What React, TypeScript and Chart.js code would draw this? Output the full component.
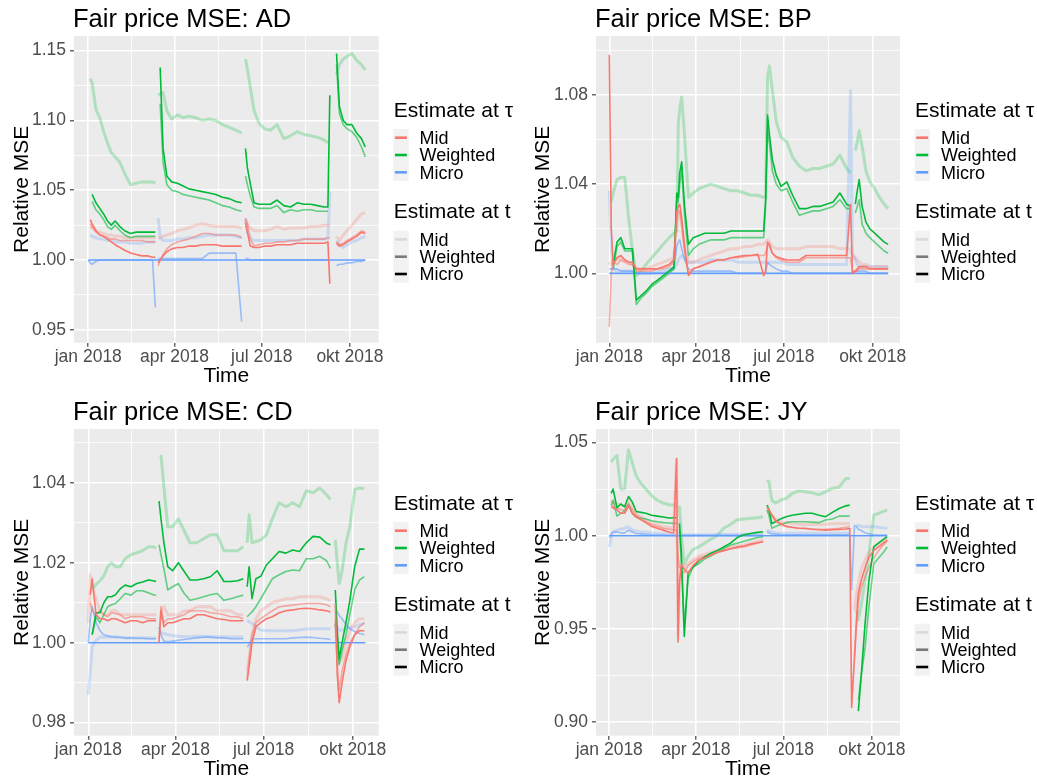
import React, { useEffect, useRef } from 'react';
import { Chart, registerables } from 'chart.js';

Chart.register(...registerables);

const FONT = '"Liberation Sans", Arial, Helvetica, sans-serif';
Chart.defaults.font.family = FONT;

// ---------- shared x grid (days since 1 Jan 2018) ----------
const DAYS = [
  0, 2, 4, 8, 12, 16, 20, 24, 28, 33, 38, 44, 50, 56, 62, 67, 70,
  71.5,
  73, 75, 78, 82, 87, 93, 99, 105, 112, 119, 126, 133, 140, 147, 154, 160,
  162,
  164, 166, 169, 173, 178, 184, 190, 197, 204, 211, 218, 225, 232, 239, 246, 250, 252,
  255,
  257, 259, 262, 266, 270, 275, 280, 285, 289,
];

const X_MAJOR = [0, 90, 181, 273];
const X_LABELS = ['jan 2018', 'apr 2018', 'jul 2018', 'okt 2018'];
const X_MINOR = [45, 135.5, 227];

const ESTIMATES = ['Mid', 'Weighted', 'Micro'];
const TAU_TITLE = 'Estimate at τ';
const T_TITLE = 'Estimate at t';
const TAU_COLORS = ['#F8766D', '#00BA38', '#619CFF'];
const T_KEY_ALPHA = [0.1, 0.5, 1];

// ---------- AD ----------
const AD_MID_MID = [
  null, 1.024, 1.023, 1.021, 1.020, 1.019, 1.018, 1.018, 1.017, 1.017, 1.016, 1.016, 1.016, 1.016, 1.016, 1.016, 1.016,
  null,
  1.016, 1.016, 1.017, 1.018, 1.019, 1.021, 1.022, 1.023, 1.025, 1.026, 1.025, 1.024, 1.024, 1.024, 1.024, 1.023,
  null,
  1.029, 1.026, 1.023, 1.021, 1.021, 1.021, 1.022, 1.024, 1.022, 1.023, 1.023, 1.023, 1.024, 1.024, 1.025, 1.025, 1.025,
  null,
  null, 1.017, 1.014, 1.018, 1.021, 1.025, 1.029, 1.033, 1.034,
];
const AD_MID_W = [
  null, 1.026, 1.024, 1.020, 1.018, 1.017, 1.016, 1.015, 1.015, 1.014, 1.014, 1.014, 1.014, 1.014, 1.013, 1.013, 1.013,
  null,
  0.996, 1.000, 1.004, 1.008, 1.011, 1.013, 1.014, 1.015, 1.017, 1.019, 1.019, 1.018, 1.018, 1.018, 1.018, 1.016,
  null,
  1.030, 1.026, 1.015, 1.010, 1.011, 1.012, 1.012, 1.013, 1.013, 1.014, 1.014, 1.015, 1.015, 1.015, 1.015, 1.016, 1.016,
  null,
  null, 1.013, 1.011, 1.012, 1.014, 1.016, 1.018, 1.021, 1.020,
];
const AD_MID_MICRO = [
  null, 1.029, 1.026, 1.021, 1.018, 1.017, 1.015, 1.013, 1.011, 1.009, 1.007, 1.005, 1.004, 1.003, 1.003, 1.002, 1.002,
  null,
  0.998, 1.000, 1.003, 1.006, 1.008, 1.009, 1.009, 1.010, 1.010, 1.011, 1.011, 1.011, 1.010, 1.010, 1.010, 1.010,
  null,
  1.027, 1.020, 1.010, 1.009, 1.009, 1.010, 1.010, 1.011, 1.011, 1.011, 1.012, 1.012, 1.012, 1.012, 1.012, 1.013, 0.983,
  null,
  null, 1.012, 1.010, 1.011, 1.013, 1.015, 1.017, 1.020, 1.019,
];
const AD_W_MID = [
  null, 1.130, 1.127, 1.108, 1.102, 1.092, 1.084, 1.077, 1.074, 1.070, 1.062, 1.054, 1.055, 1.056, 1.056, 1.056, 1.055,
  null,
  1.118, 1.119, 1.120, 1.107, 1.101, 1.104, 1.102, 1.103, 1.102, 1.100, 1.101, 1.100, 1.097, 1.095, 1.093, 1.091,
  null,
  1.144, 1.137, 1.124, 1.107, 1.098, 1.094, 1.093, 1.097, 1.087, 1.089, 1.092, 1.090, 1.089, 1.088, 1.086, 1.084, null,
  null,
  null, 1.133, 1.140, 1.144, 1.146, 1.148, 1.143, 1.140, 1.136,
];
const AD_W_W = [
  null, null, 1.042, 1.036, 1.033, 1.029, 1.024, 1.022, 1.025, 1.021, 1.018, 1.016, 1.017, 1.017, 1.017, 1.017, 1.017,
  null,
  null, 1.112, 1.070, 1.054, 1.050, 1.049, 1.047, 1.046, 1.045, 1.044, 1.043, 1.041, 1.039, 1.038, 1.036, 1.035,
  null,
  1.060, 1.054, 1.046, 1.038, 1.037, 1.037, 1.037, 1.039, 1.034, 1.036, 1.035, 1.036, 1.036, 1.035, 1.035, 1.035, null,
  null,
  null, 1.140, 1.105, 1.097, 1.094, 1.092, 1.088, 1.081, 1.074,
];
const AD_W_MICRO = [
  null, null, 1.047, 1.041, 1.037, 1.033, 1.028, 1.025, 1.028, 1.024, 1.021, 1.019, 1.020, 1.020, 1.020, 1.020, 1.020,
  null,
  null, 1.138, 1.080, 1.060, 1.056, 1.055, 1.053, 1.051, 1.050, 1.049, 1.048, 1.047, 1.045, 1.044, 1.042, 1.041,
  null,
  1.080, 1.066, 1.055, 1.041, 1.040, 1.040, 1.040, 1.043, 1.039, 1.038, 1.041, 1.040, 1.040, 1.039, 1.038, 1.038, 1.118,
  null,
  null, 1.148, 1.110, 1.100, 1.097, 1.097, 1.091, 1.087, 1.081,
];
const AD_U_MID = [
  null, 1.018, 1.017, 1.016, 1.015, 1.015, 1.014, 1.014, 1.013, 1.013, 1.013, 1.012, 1.012, 1.012, 1.013, 1.013, 1.013,
  null,
  1.030, 1.016, 1.014, 1.014, 1.014, 1.015, 1.015, 1.016, 1.016, 1.017, 1.018, 1.018, 1.018, 1.018, 1.017, 1.016,
  null,
  1.030, 1.020, 1.016, 1.014, 1.014, 1.014, 1.014, 1.014, 1.014, 1.014, 1.014, 1.015, 1.015, 1.015, 1.015, 1.015, 1.049,
  null,
  null, 1.014, 1.011, 1.009, 1.011, 1.013, 1.014, 1.016, 1.017,
];
const AD_U_W = [
  1.000, 0.998, 0.997, 0.999, 1.000, 1.000, 1.000, 1.000, 1.000, 1.000, 1.000, 1.000, 1.000, 1.000, 1.000, 1.000, 0.966,
  null,
  1.001, 1.001, 1.001, 1.001, 1.001, 1.001, 1.001, 1.001, 1.001, 1.001, 1.005, 1.005, 1.005, 1.005, 1.005, 0.956,
  null,
  1.001, 1.001, 1.000, 1.000, 1.000, 1.000, 1.000, 1.000, 1.000, 1.000, 1.000, 1.000, 1.000, 1.000, 1.000, 1.000, 1.000,
  null,
  null, 0.996, 0.997, 0.997, 0.998, 0.998, 0.999, 0.999, 1.000,
];
const AD_BASE_DAYS = [0, 289];
const AD_BASE = [1.0, 1.0];

// ---------- BP ----------
const BP_MID_MID = [
  1.005, 1.004, 1.006, 1.006, 1.007, 1.006, 1.005, 1.004, 1.002, 1.002, 1.002, 1.003, 1.004, 1.005, 1.006, 1.007, 1.024,
  1.026,
  1.027, 1.022, 1.012, 1.005, 1.005, 1.006, 1.007, 1.008, 1.009, 1.010, 1.011, 1.011, 1.012, 1.012, 1.013, 1.013,
  1.014,
  1.015, 1.014, 1.012, 1.011, 1.011, 1.011, 1.011, 1.011, 1.012, 1.012, 1.012, 1.012, 1.012, 1.011, 1.011, 1.011, 1.008,
  1.007,
  1.006, 1.005, 1.004, 1.004, 1.003, 1.003, 1.003, 1.003, 1.003,
];
const BP_MID_W = [
  0.976, 1.000, 1.005, 1.004, 1.006, 1.005, 1.004, 1.004, 1.001, 1.001, 1.001, 1.001, 1.002, 1.002, 1.003, 1.005, 1.026,
  1.028,
  1.028, 1.022, 1.010, 1.000, 1.002, 1.003, 1.004, 1.005, 1.006, 1.006, 1.007, 1.007, 1.0075, 1.008, 1.008, 1.008,
  1.009,
  1.013, 1.012, 1.009, 1.007, 1.006, 1.005, 1.005, 1.005, 1.007, 1.007, 1.007, 1.007, 1.007, 1.007, 1.007, 1.007, 1.001,
  1.001,
  1.001, 1.002, 1.002, 1.002, 1.002, 1.002, 1.002, 1.002, 1.002,
];
const BP_MID_MICRO = [
  1.098, 1.020, 1.004, 1.007, 1.008, 1.006, 1.005, 1.005, 1.002, 1.002, 1.002, 1.002, 1.002, 1.003, 1.004, 1.006, 1.028,
  1.030,
  1.031, 1.025, 1.012, 0.999, 1.002, 1.003, 1.004, 1.005, 1.006, 1.006, 1.007, 1.0075, 1.008, 1.008, 1.0085, 0.999,
  1.001,
  1.014, 1.013, 1.009, 1.0075, 1.0067, 1.006, 1.006, 1.006, 1.008, 1.008, 1.008, 1.008, 1.008, 1.008, 1.008, 1.031, 1.000,
  1.001,
  1.002, 1.003, 1.003, 1.003, 1.002, 1.002, 1.002, 1.002, 1.002,
];
const BP_W_MID = [
  null, 1.032, 1.036, 1.042, 1.043, 1.043, 1.025, 1.010, 0.999, 1.001, 1.004, 1.007, 1.010, 1.013, 1.016, 1.018, 1.019,
  1.067,
  1.074, 1.079, 1.062, 1.034, 1.036, 1.038, 1.039, 1.040, 1.039, 1.038, 1.037, 1.037, 1.036, 1.035, 1.035, 1.034,
  1.034,
  1.088, 1.093, 1.082, 1.068, 1.061, 1.059, 1.052, 1.048, 1.046, 1.047, 1.047, 1.048, 1.049, 1.053, 1.047, 1.045, null,
  1.055,
  1.059, 1.064, 1.057, 1.046, 1.041, 1.038, 1.034, 1.031, 1.029,
];
const BP_W_W = [
  null, null, 1.002, 1.012, 1.014, 1.010, 1.010, 1.010, 0.986, 0.989, 0.991, 0.994, 0.996, 0.998, 1.000, 1.002, 1.034,
  1.032,
  1.040, 1.046, 1.026, 1.008, 1.011, 1.013, 1.014, 1.015, 1.015, 1.015, 1.016, 1.016, 1.016, 1.016, 1.016, 1.016,
  1.030,
  1.064, 1.058, 1.046, 1.040, 1.037, 1.038, 1.032, 1.026, 1.027, 1.028, 1.028, 1.029, 1.030, 1.033, 1.029, 1.029, null,
  1.027,
  1.030, 1.033, 1.022, 1.018, 1.016, 1.014, 1.012, 1.010, 1.009,
];
const BP_W_MICRO = [
  null, null, 1.004, 1.014, 1.016, 1.011, 1.011, 1.011, 0.988, 0.990, 0.992, 0.995, 0.997, 0.999, 1.001, 1.003, 1.036,
  1.034,
  1.045, 1.050, 1.030, 1.013, 1.016, 1.017, 1.018, 1.018, 1.018, 1.018, 1.019, 1.019, 1.019, 1.019, 1.019, 1.019,
  1.033,
  1.071, 1.062, 1.051, 1.044, 1.039, 1.041, 1.035, 1.029, 1.029, 1.030, 1.030, 1.031, 1.032, 1.036, 1.031, 1.030, null,
  1.031,
  1.037, 1.042, 1.030, 1.023, 1.020, 1.018, 1.016, 1.014, 1.013,
];
const BP_U_MID = [
  1.037, 1.012, 1.002, 1.001, 1.001, 1.001, 1.001, 1.001, 1.000, 1.000, 1.000, 1.000, 1.001, 1.001, 1.002, 1.002, 1.004,
  1.006,
  1.007, 1.008, 1.007, 1.005, 1.005, 1.005, 1.005, 1.006, 1.006, 1.006, 1.006, 1.005, 1.005, 1.005, 1.005, 1.005,
  1.005,
  1.005, 1.005, 1.005, 1.005, 1.005, 1.004, 1.004, 1.004, 1.004, 1.004, 1.004, 1.004, 1.004, 1.004, 1.004, 1.082, 1.009,
  1.006,
  1.004, 1.003, 1.003, 1.003, 1.003, 1.003, 1.003, 1.003, 1.003,
];
const BP_U_W = [
  1.002, 1.002, 1.002, 1.002, 1.001, 1.001, 1.001, 1.001, 1.000, 1.000, 1.000, 1.000, 1.000, 1.000, 1.001, 1.002, 1.012,
  1.014,
  1.015, 1.011, 1.006, 1.002, 1.001, 1.001, 1.001, 1.001, 1.001, 1.001, 1.001, 1.000, 1.000, 1.000, 1.000, 1.000,
  1.000,
  1.005, 1.004, 1.003, 1.002, 1.001, 1.001, 1.000, 1.000, 1.000, 1.000, 1.000, 1.000, 1.000, 1.000, 1.000, 1.000, 1.000,
  1.001,
  1.001, 1.001, 1.001, 1.001, 1.000, 1.000, 1.000, 1.000, 1.000,
];
const BP_BASE_DAYS = [0, 289];
const BP_BASE = [1.0, 1.0];

// ---------- CD ----------
const CD_MID_MID = [
  1.005, 1.017, 1.014, 1.011, 1.008, 1.007, 1.007, 1.008, 1.008, 1.007, 1.007, 1.007, 1.007, 1.007, 1.007, 1.007, 1.007,
  null,
  null, 1.008, 1.009, 1.007, 1.007, 1.007, 1.008, 1.008, 1.009, 1.009, 1.009, 1.008, 1.008, 1.008, 1.007, 1.007,
  null,
  0.993, 0.996, 1.002, 1.006, 1.008, 1.009, 1.010, 1.0105, 1.011, 1.011, 1.0115, 1.0115, 1.0115, 1.0115, 1.011, 1.0105, null,
  1.006,
  0.998, 0.995, 0.996, 1.000, 1.003, 1.005, 1.006, 1.006, null,
];
const CD_MID_W = [
  null, 1.010, 1.008, 1.007, 1.008, 1.007, 1.0065, 1.0075, 1.0073, 1.007, 1.006, 1.0065, 1.0065, 1.0065, 1.006, 1.006, 1.006,
  null,
  1.001, 1.009, 1.005, 1.006, 1.006, 1.0065, 1.007, 1.008, 1.008, 1.008, 1.0075, 1.0073, 1.007, 1.0065, 1.0065, 1.006,
  null,
  0.991, 0.996, 1.002, 1.005, 1.006, 1.007, 1.008, 1.009, 1.0092, 1.0094, 1.0096, 1.0098, 1.0098, 1.0098, 1.0095, 1.009, null,
  1.005,
  0.995, 0.988, 0.993, 0.997, 1.000, 1.002, 1.004, 1.005, null,
];
const CD_MID_MICRO = [
  null, 1.012, 1.016, 1.007, 1.006, 1.006, 1.0055, 1.006, 1.006, 1.0055, 1.005, 1.0055, 1.0055, 1.005, 1.0055, 1.0055, 1.0055,
  null,
  1.000, 1.008, 1.004, 1.005, 1.005, 1.0055, 1.006, 1.006, 1.007, 1.007, 1.0065, 1.006, 1.0058, 1.0055, 1.0055, 1.0055,
  null,
  0.9905, 0.994, 1.000, 1.004, 1.005, 1.006, 1.0065, 1.0075, 1.008, 1.0082, 1.0085, 1.0086, 1.0085, 1.0082, 1.008, 1.0077, null,
  1.0098,
  0.992, 0.985, 0.990, 0.9955, 0.999, 1.002, 1.003, 1.003, null,
];
const CD_W_MID = [
  null, null, 1.0133, 1.0146, 1.0155, 1.0167, 1.019, 1.020, 1.019, 1.019, 1.021, 1.022, 1.0225, 1.023, 1.024, 1.024, 1.0236,
  null,
  null, 1.047, 1.039, 1.029, 1.029, 1.031, 1.028, 1.025, 1.025, 1.026, 1.027, 1.027, 1.023, 1.023, 1.023, 1.024,
  null,
  1.025, 1.032, 1.025, 1.0253, 1.0257, 1.027, 1.031, 1.035, 1.034, 1.035, 1.034, 1.038, 1.0375, 1.0387, 1.037, 1.0358, null,
  1.0257,
  1.020, 1.0148, 1.018, 1.0249, 1.029, 1.0383, 1.0387, 1.0386, null,
];
const CD_W_W = [
  null, null, 1.002, 1.0065, 1.005, 1.007, 1.009, 1.0095, 1.0098, 1.011, 1.0123, 1.0119, 1.013, 1.013, 1.0125, 1.012, 1.0119,
  null,
  1.0245, 1.022, 1.0185, 1.0132, 1.014, 1.0148, 1.0123, 1.0106, 1.011, 1.0115, 1.012, 1.0123, 1.0106, 1.011, 1.0115, 1.0119,
  null,
  1.0065, 1.007, 1.0077, 1.009, 1.011, 1.0135, 1.016, 1.017, 1.0178, 1.0182, 1.018, 1.021, 1.021, 1.0216, 1.0205, 1.0186, null,
  1.0048,
  0.999, 0.9945, 0.998, 1.002, 1.007, 1.0132, 1.0157, 1.0165, null,
];
const CD_W_MICRO = [
  null, null, 1.002, 1.0075, 1.0075, 1.010, 1.0115, 1.0115, 1.012, 1.0135, 1.0144, 1.014, 1.0148, 1.0152, 1.0157, 1.0155, 1.0153,
  null,
  1.0354, 1.031, 1.025, 1.019, 1.018, 1.020, 1.0178, 1.0157, 1.0157, 1.016, 1.0165, 1.018, 1.0153, 1.0153, 1.0155, 1.016,
  null,
  1.014, 1.019, 1.011, 1.016, 1.0166, 1.0195, 1.021, 1.0228, 1.0224, 1.0232, 1.0228, 1.025, 1.0266, 1.0264, 1.0249, 1.0245, null,
  1.0132,
  1.003, 0.996, 1.000, 1.005, 1.0105, 1.019, 1.0234, 1.0234, null,
];
const CD_U_MID = [
  0.987, 0.993, 0.999, 1.0006, 1.0014, 1.0014, 1.0014, 1.0014, 1.0014, 1.0014, 1.0012, 1.0012, 1.0012, 1.0012, 1.0012, 1.0012, 1.0012,
  null,
  1.003, 1.0025, 1.0023, 1.002, 1.0018, 1.0016, 1.0015, 1.0015, 1.0016, 1.0016, 1.0015, 1.0015, 1.0015, 1.0014, 1.0014, 1.0014,
  null,
  1.0056, 1.0052, 1.0048, 1.004, 1.0032, 1.003, 1.003, 1.003, 1.003, 1.003, 1.0032, 1.0034, 1.0035, 1.0035, 1.0035, 1.0035, null,
  1.0048,
  1.004, 1.003, 1.0032, 1.0035, 1.0038, 1.004, 1.0045, 1.0048, null,
];
const CD_U_W = [
  1.000, 1.006, 1.009, 1.005, 1.003, 1.002, 1.0017, 1.0015, 1.0014, 1.0013, 1.0012, 1.0012, 1.0011, 1.0011, 1.001, 1.001, 1.001,
  null,
  1.004, 1.002, 1.0004, 1.0002, 1.0004, 1.0006, 1.0008, 1.001, 1.0012, 1.0014, 1.0014, 1.0012, 1.0012, 1.001, 1.001, 1.001,
  null,
  0.9989, 0.9995, 1.001, 1.001, 1.001, 1.001, 1.001, 1.001, 1.001, 1.0012, 1.0013, 1.0014, 1.0013, 1.0011, 1.001, 1.0008, null,
  1.0081,
  1.0078, 1.0068, 1.006, 1.0045, 1.0035, 1.0028, 1.0023, 1.002, null,
];
const CD_BASE_DAYS = [0, 286];
const CD_BASE = [1.0, 1.0];

// ---------- JY ----------
const JY_MID_MID = [
  null, 1.019, 1.018, 1.017, 1.0165, 1.0158, 1.019, 1.016, 1.012, 1.010, 1.0085, 1.007, 1.006, 1.005, 1.0045, 1.004, 1.041,
  0.946,
  0.975, 0.983, 0.983, 0.985, 0.987, 0.989, 0.990, 0.991, 0.992, 0.993, 0.994, 0.9945, 0.995, 0.996, 0.997, 0.9977,
  null,
  1.0138, 1.013, 1.011, 1.009, 1.0075, 1.007, 1.0065, 1.006, 1.006, 1.006, 1.006, 1.0062, 1.0064, 1.0066, 1.0066, 1.0066, null,
  0.960,
  0.968, 0.975, 0.982, 0.987, 0.991, 0.994, 0.996, 0.997, 0.998,
];
const JY_MID_W = [
  null, 1.0164, 1.016, 1.015, 1.014, 1.0135, 1.017, 1.014, 1.011, 1.009, 1.0075, 1.006, 1.005, 1.004, 1.0035, 1.003, 1.003,
  0.990,
  0.983, 0.982, 0.980, 0.984, 0.986, 0.988, 0.989, 0.990, 0.991, 0.992, 0.993, 0.9935, 0.994, 0.995, 0.996, 0.997,
  null,
  1.015, 1.014, 1.011, 1.008, 1.006, 1.005, 1.0045, 1.004, 1.004, 1.0035, 1.0035, 1.0035, 1.0037, 1.004, 1.0045, 1.005, null,
  0.935,
  0.950, 0.964, 0.972, 0.978, 0.983, 0.988, 0.992, 0.995, 0.997,
];
const JY_MID_MICRO = [
  null, 1.0155, 1.015, 1.0138, 1.012, 1.012, 1.016, 1.012, 1.010, 1.0085, 1.007, 1.005, 1.004, 1.003, 1.002, 1.0015, 1.0414,
  0.943,
  0.975, 0.985, 0.982, 0.980, 0.984, 0.987, 0.988, 0.9895, 0.991, 0.992, 0.993, 0.994, 0.9945, 0.9955, 0.9962, 0.9968,
  null,
  1.0155, 1.014, 1.011, 1.008, 1.0065, 1.005, 1.0045, 1.004, 1.0039, 1.0035, 1.0032, 1.003, 1.0032, 1.0034, 1.0036, 1.0039, 0.908,
  0.935,
  0.955, 0.969, 0.976, 0.983, 0.9885, 0.992, 0.994, 0.996, 0.9977,
];
const JY_W_MID = [
  null, 1.0396, 1.041, 1.043, 1.025, 1.0252, 1.046, 1.039, 1.032, 1.028, 1.025, 1.0215, 1.019, 1.0175, 1.0166, 1.0164, 1.0164,
  null,
  1.016, 1.000, 0.985, 0.989, 0.9925, 0.994, 0.996, 0.998, 1.000, 1.004, 1.006, 1.0085, 1.009, 1.0093, 1.0096, 1.0102,
  null,
  1.0298, 1.029, 1.019, 1.0175, 1.019, 1.020, 1.0225, 1.024, 1.0236, 1.023, 1.022, 1.0236, 1.0254, 1.026, 1.0307, 1.0307, null,
  null,
  0.960, 0.955, 0.963, 0.976, 0.990, 1.011, 1.012, 1.013, 1.0138,
];
const JY_W_W = [
  null, 1.0164, 1.019, 1.0105, 1.012, 1.0135, 1.017, 1.012, 1.010, 1.0095, 1.009, 1.008, 1.0075, 1.007, 1.0068, 1.0066, 1.0066,
  null,
  1.003, 0.985, 0.952, 0.977, 0.9832, 0.985, 0.9875, 0.989, 0.991, 0.9932, 0.995, 0.996, 0.997, 0.998, 0.999, 0.9995,
  null,
  1.0138, 1.011, 1.004, 1.005, 1.006, 1.007, 1.0075, 1.0075, 1.0075, 1.0073, 1.007, 1.0084, 1.009, 1.0105, 1.0105, 1.0105, null,
  null,
  null, 0.912, 0.925, 0.940, 0.962, 0.985, 0.988, 0.991, 0.994,
];
const JY_W_MICRO = [
  null, 1.0227, 1.025, 1.015, 1.017, 1.0155, 1.021, 1.018, 1.013, 1.0125, 1.012, 1.011, 1.0105, 1.010, 1.0095, 1.0096, 1.0096,
  null,
  1.0066, 0.990, 0.946, 0.980, 0.983, 0.9865, 0.9885, 0.9905, 0.992, 0.994, 0.996, 0.999, 1.0005, 1.0012, 1.0018, 1.0021,
  null,
  1.0164, 1.014, 1.0066, 1.0075, 1.009, 1.0102, 1.011, 1.0115, 1.012, 1.012, 1.011, 1.0102, 1.0125, 1.0146, 1.016, 1.0164, null,
  null,
  null, 0.906, 0.925, 0.953, 0.976, 0.994, 0.996, 0.998, 0.9995,
];
const JY_U_MID = [
  0.994, 0.999, 1.002, 1.003, 1.0035, 1.004, 1.0048, 1.003, 1.0025, 1.002, 1.002, 1.0015, 1.0012, 1.001, 1.0008, 1.0005, 1.0005,
  null,
  1.000, 1.000, 1.0005, 1.0005, 1.0005, 1.0005, 1.0005, 1.0005, 1.0006, 1.0006, 1.0006, 1.0007, 1.0008, 1.0008, 1.0008, 1.0008,
  null,
  1.003, 1.0025, 1.002, 1.0015, 1.0013, 1.0013, 1.0013, 1.0013, 1.0013, 1.0013, 1.0013, 1.0013, 1.0013, 1.0013, 1.0013, 1.0013, null,
  null,
  1.005, 1.0057, 1.005, 1.0048, 1.0048, 1.0048, 1.0045, 1.0042, 1.004,
];
const JY_U_W = [
  0.999, 1.001, 1.002, 1.0021, 1.0015, 1.0015, 1.003, 1.002, 1.0012, 1.001, 1.0008, 1.0005, 1.0004, 1.0003, 1.0002, 1.0002, 1.0002,
  null,
  1.0002, 1.0002, 1.0002, 1.0002, 1.0002, 1.0002, 1.0002, 1.0002, 1.0002, 1.0002, 1.0002, 1.0002, 1.0002, 1.0002, 1.0002, 1.0002,
  null,
  1.0021, 1.0015, 1.001, 1.0008, 1.0006, 1.0005, 1.0005, 1.0005, 1.0005, 1.0005, 1.0005, 1.0005, 1.0005, 1.0005, 1.0005, 1.0005, 0.971,
  1.0055,
  1.005, 1.0035, 1.0028, 1.0015, 1.001, 1.0005, 1.0004, 1.0003, 1.0003,
];
const JY_BASE_DAYS = [0, 289];
const JY_BASE = [1.0, 1.0];

// ---------- panel layout ----------
const CANVAS_W = 519;
const CANVAS_H = 389;
const PLOT_TOP = 36;
const PLOT_BOTTOM = 342.7;

const s = (values: any[]) => ({ days: DAYS, values });

const PANELS = [
  {
    name: 'AD', left: 0, top: 0, padLeft: 9.9, plotLeft: 74, plotRight: 378.7,
    xMin: -14.9, xMax: 303, yMin: 0.9408, yMax: 1.1605,
    yMajor: [0.95, 1.0, 1.05, 1.1, 1.15], yMinor: [0.975, 1.025, 1.075, 1.125],
    series: [
      [s(AD_MID_MID), s(AD_MID_W), s(AD_MID_MICRO)],
      [s(AD_W_MID), s(AD_W_W), s(AD_W_MICRO)],
      [s(AD_U_MID), s(AD_U_W), { days: AD_BASE_DAYS, values: AD_BASE }],
    ],
  },
  {
    name: 'BP', left: 518, top: 0, padLeft: 12.7, plotLeft: 78, plotRight: 382,
    xMin: -13.8, xMax: 301.3, yMin: 0.9689, yMax: 1.1064,
    yMajor: [1.0, 1.04, 1.08], yMinor: [0.98, 1.02, 1.06, 1.1],
    series: [
      [s(BP_MID_MID), s(BP_MID_W), s(BP_MID_MICRO)],
      [s(BP_W_MID), s(BP_W_W), s(BP_W_MICRO)],
      [s(BP_U_MID), s(BP_U_W), { days: BP_BASE_DAYS, values: BP_BASE }],
    ],
  },
  {
    name: 'CD', left: 0, top: 393, padLeft: 9.9, plotLeft: 74, plotRight: 378.7,
    xMin: -14.8, xMax: 299.8, yMin: 0.97674, yMax: 1.05345,
    yMajor: [0.98, 1.0, 1.02, 1.04], yMinor: [0.99, 1.01, 1.03, 1.05],
    series: [
      [s(CD_MID_MID), s(CD_MID_W), s(CD_MID_MICRO)],
      [s(CD_W_MID), s(CD_W_W), s(CD_W_MICRO)],
      [s(CD_U_MID), s(CD_U_W), { days: CD_BASE_DAYS, values: CD_BASE }],
    ],
  },
  {
    name: 'JY', left: 518, top: 393, padLeft: 12.7, plotLeft: 78, plotRight: 382,
    xMin: -13.8, xMax: 302.3, yMin: 0.8928, yMax: 1.0572,
    yMajor: [0.9, 0.95, 1.0, 1.05], yMinor: [0.925, 0.975, 1.025],
    series: [
      [s(JY_MID_MID), s(JY_MID_W), s(JY_MID_MICRO)],
      [s(JY_W_MID), s(JY_W_W), s(JY_W_MICRO)],
      [s(JY_U_MID), s(JY_U_W), { days: JY_BASE_DAYS, values: JY_BASE }],
    ],
  },
];

const LINE_ALPHA = [0.25, 0.6, 1];
const LINE_WIDTH = [3, 1.6, 1.6];
const LINE_ORDER = [3, 2, 1];

function rgba(hex: string, a: number) {
  const n = parseInt(hex.slice(1), 16);
  return `rgba(${(n >> 16) & 255},${(n >> 8) & 255},${n & 255},${a})`;
}

const near = (list: number[], v: number) => list.some((m) => Math.abs(m - v) < 1e-6);

function Panel({ spec }: { spec: any }) {
  const ref = useRef<HTMLCanvasElement>(null);

  useEffect(() => {
    const canvas = ref.current;
    if (!canvas) return;

    const datasets: any[] = [];
    spec.series.forEach((row: any[], ci: number) => {
      row.forEach((ser: any, ti: number) => {
        if (ser.values.length !== ser.days.length) {
          console.warn('length mismatch', spec.name, ci, ti, ser.values.length);
        }
        datasets.push({
          label: `${ESTIMATES[ci]} (τ) / ${ESTIMATES[ti]} (t)`,
          data: ser.days.map((d: number, i: number) => ({ x: d, y: ser.values[i] })),
          borderColor: rgba(TAU_COLORS[ci], LINE_ALPHA[ti]),
          backgroundColor: 'transparent',
          borderWidth: LINE_WIDTH[ti],
          pointRadius: 0,
          tension: 0,
          spanGaps: false,
          fill: false,
          order: LINE_ORDER[ti],
          borderJoinStyle: 'round',
        });
      });
    });

    const bgPlugin = {
      id: 'panelBg',
      beforeDraw(chart: any) {
        const { ctx, chartArea } = chart;
        ctx.save();
        ctx.fillStyle = '#EBEBEB';
        ctx.fillRect(chartArea.left, chartArea.top, chartArea.right - chartArea.left, chartArea.bottom - chartArea.top);
        ctx.restore();
      },
    };

    const decorPlugin = {
      id: 'panelDecor',
      afterDraw(chart: any) {
        const { ctx, chartArea } = chart;
        ctx.save();
        ctx.textAlign = 'left';
        ctx.textBaseline = 'alphabetic';
        ctx.fillStyle = '#000000';
        ctx.font = `25.5px ${FONT}`;
        ctx.fillText(`Fair price MSE: ${spec.name}`, chartArea.left - 1, 27);

        const x0 = chartArea.right + 14.6;
        const drawLegend = (title: string, titleY: number, boxTop: number, colors: string[]) => {
          ctx.fillStyle = '#000000';
          ctx.font = `21px ${FONT}`;
          ctx.fillText(title, x0 + 0.5, titleY);
          ctx.fillStyle = '#F2F2F2';
          ctx.fillRect(x0, boxTop, 15.4, 52);
          ESTIMATES.forEach((lab, i) => {
            const y = boxTop + 8.7 + i * 17.3;
            ctx.strokeStyle = colors[i];
            ctx.lineWidth = 2.6;
            ctx.beginPath();
            ctx.moveTo(x0 + 1.6, y);
            ctx.lineTo(x0 + 13.6, y);
            ctx.stroke();
            ctx.fillStyle = '#000000';
            ctx.font = `18px ${FONT}`;
            ctx.fillText(lab, x0 + 26.3, y + 6.4);
          });
        };
        drawLegend(TAU_TITLE, 116.5, 129, TAU_COLORS);
        drawLegend(T_TITLE, 218.3, 230.7, T_KEY_ALPHA.map((a) => `rgba(0,0,0,${a})`));
        ctx.restore();
      },
    };

    const xTicks = [...X_MAJOR, ...X_MINOR].sort((a, b) => a - b);
    const yTicks = [...spec.yMajor, ...spec.yMinor].sort((a: number, b: number) => a - b);

    const chart = new Chart(canvas, {
      type: 'line',
      data: { datasets },
      options: {
        responsive: false,
        animation: false,
        devicePixelRatio: 1,
        events: [],
        layout: {
          padding: { left: spec.padLeft, right: CANVAS_W - spec.plotRight, top: PLOT_TOP, bottom: 0 },
        },
        plugins: {
          legend: { display: false },
          tooltip: { enabled: false },
          title: { display: false },
        },
        scales: {
          x: {
            type: 'linear',
            min: spec.xMin,
            max: spec.xMax,
            afterBuildTicks: (scale: any) => {
              scale.ticks = xTicks.map((v) => ({ value: v }));
            },
            afterFit: (scale: any) => {
              scale.height = CANVAS_H - PLOT_BOTTOM;
            },
            ticks: {
              autoSkip: false,
              maxRotation: 0,
              minRotation: 0,
              padding: 0,
              color: '#4D4D4D',
              font: { family: FONT, size: 17.5 },
              callback: (v: any) => {
                const i = X_MAJOR.indexOf(Number(v));
                return i >= 0 ? X_LABELS[i] : '';
              },
            },
            grid: {
              color: '#FFFFFF',
              lineWidth: (c: any) => (c.tick && near(X_MAJOR, c.tick.value) ? 1.6 : 0.8),
              tickColor: (c: any) => (c.tick && near(X_MAJOR, c.tick.value) ? '#333333' : 'rgba(0,0,0,0)'),
              tickLength: 4,
              tickWidth: 1.1,
            },
            border: { display: false },
            title: {
              display: true,
              text: 'Time',
              color: '#000000',
              font: { family: FONT, size: 21 },
              padding: 0,
            },
          },
          y: {
            type: 'linear',
            min: spec.yMin,
            max: spec.yMax,
            afterBuildTicks: (scale: any) => {
              scale.ticks = yTicks.map((v: number) => ({ value: v }));
            },
            afterFit: (scale: any) => {
              scale.width = spec.plotLeft - spec.padLeft;
            },
            ticks: {
              autoSkip: false,
              padding: 4,
              color: '#4D4D4D',
              font: { family: FONT, size: 17.5 },
              callback: (v: any) => (near(spec.yMajor, Number(v)) ? Number(v).toFixed(2) : ''),
            },
            grid: {
              color: '#FFFFFF',
              lineWidth: (c: any) => (c.tick && near(spec.yMajor, c.tick.value) ? 1.6 : 0.8),
              tickColor: (c: any) => (c.tick && near(spec.yMajor, c.tick.value) ? '#333333' : 'rgba(0,0,0,0)'),
              tickLength: 4,
              tickWidth: 1.1,
            },
            border: { display: false },
            title: {
              display: true,
              text: 'Relative MSE',
              color: '#000000',
              font: { family: FONT, size: 21 },
              padding: 0,
            },
          },
        },
      } as any,
      plugins: [bgPlugin, decorPlugin],
    } as any);

    return () => chart.destroy();
  }, [spec]);

  return (
    <canvas
      ref={ref}
      width={CANVAS_W}
      height={CANVAS_H}
      style={{ position: 'absolute', left: spec.left, top: spec.top, width: CANVAS_W, height: CANVAS_H }}
    />
  );
}

export default function App() {
  return (
    <div
      style={{
        position: 'absolute',
        left: 0,
        top: 0,
        width: 1037,
        height: 778,
        overflow: 'hidden',
        background: '#FFFFFF',
      }}
    >
      {PANELS.map((p) => (
        <Panel key={p.name} spec={p} />
      ))}
    </div>
  );
}
